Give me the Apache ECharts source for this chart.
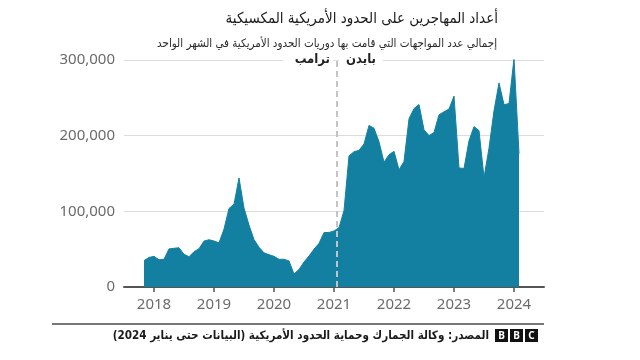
<!DOCTYPE html>
<html>
<head>
<meta charset="utf-8">
<script src="https://cdn.jsdelivr.net/npm/echarts@6/dist/echarts.min.js"></script>
<style>
html,body{margin:0;padding:0;background:#fff;}
#chart{width:640px;height:360px;}
</style>
</head>
<body>
<div id="chart"></div>
<script>
// ---- Data ----
const titleText = 'أعداد المهاجرين على الحدود الأمريكية المكسيكية';
const subtitleText = 'إجمالي عدد المواجهات التي قامت بها دوريات الحدود الأمريكية في الشهر الواحد';
const sourceText = '\u200Fالمصدر: وكالة الجمارك وحماية الحدود الأمريكية (البيانات حتى يناير 2024)\u200F';
const trumpLabel = 'ترامب';
const bidenLabel = 'بايدن';
const startYear = 2017;
const startMonth = 10; // October 2017
const encounters = [
  34857, 39051, 40519,
  35905, 36687, 50347, 51168, 51862, 43180, 40036, 46719, 50568,
  60745, 62456, 60782,
  58317, 76545, 103731, 109415, 144116, 104311, 81777, 62707, 52546,
  45139, 42649, 40565,
  36585, 36687, 34460, 17106, 23237, 33049, 40929, 50014, 57674,
  71929, 72113, 73994,
  78414, 101099, 173277, 178795, 180597, 189034, 213593, 209840, 192001,
  164837, 174845, 179253,
  154874, 166010, 222239, 235785, 241136, 207834, 200162, 204087, 227547,
  231529, 235173, 252315,
  157358, 156630, 193249, 211992, 206690, 144556, 183479, 232963, 269735,
  240988, 242418, 301983,
  176205
];
const yearTicks = [2018, 2019, 2020, 2021, 2022, 2023, 2024];
const inauguration = 2021 + 20 / 365;

// points plotted at month end
const seriesData = encounters.map((v, i) => [startYear + (startMonth + i) / 12, v]);

const FONT = "'Noto Sans', 'DejaVu Sans', sans-serif";
const AR = "'DejaVu Sans Condensed', 'DejaVu Sans', sans-serif";
const chart = echarts.init(document.getElementById('chart'), null, {renderer: 'canvas'});

chart.setOption({
  animation: false,
  backgroundColor: '#fff',
  title: [
    {text: titleText, right: 137, top: 7,
     textStyle: {fontFamily: AR, fontSize: 15, fontWeight: 'normal', color: '#1a1a1a'}},
    {text: subtitleText, right: 138, top: 33,
     textStyle: {fontFamily: AR, fontSize: 11.5, fontWeight: 'normal', color: '#2a2a2a'}}
  ],
  grid: {left: 124, right: 96, top: 60, bottom: 73, containLabel: false},
  xAxis: {
    type: 'value',
    min: 2017.5, max: 2024.5,
    splitLine: {show: false},
    axisLine: {show: true, lineStyle: {color: '#555', width: 2}},
    axisTick: {show: true, customValues: yearTicks, length: 5, lineStyle: {color: '#555', width: 1.5}},
    axisLabel: {customValues: yearTicks, formatter: v => String(Math.round(v)),
      fontFamily: FONT, fontSize: 15, color: '#6b6b6b', margin: 10}
  },
  yAxis: {
    type: 'value',
    min: 0, max: 300000, interval: 100000,
    axisLine: {show: false},
    axisTick: {show: false},
    splitLine: {show: true, lineStyle: {color: '#dcdcdc', width: 1}},
    axisLabel: {formatter: v => v.toLocaleString('en-US'),
      fontFamily: FONT, fontSize: 15, color: '#6b6b6b', margin: 9}
  },
  series: [{
    type: 'line',
    data: seriesData,
    showSymbol: false,
    symbol: 'none',
    lineStyle: {width: 1, color: '#1380A1'},
    areaStyle: {color: '#1380A1', opacity: 1},
    markLine: {
      silent: true,
      symbol: 'none',
      label: {show: false},
      lineStyle: {color: '#c4c4c4', width: 2, type: [6, 4]},
      data: [{xAxis: inauguration}]
    }
  }],
  graphic: [
    {type: 'rect', z: 10, shape: {x: 283, y: 51, width: 50, height: 19}, style: {fill: '#fff'}},
    {type: 'rect', z: 10, shape: {x: 339, y: 51, width: 44, height: 19}, style: {fill: '#fff'}},
    {type: 'text', z: 11, x: 330, y: 60,
     style: {text: trumpLabel, font: "bold 13px " + AR, fill: '#222', align: 'right', verticalAlign: 'middle'}},
    {type: 'text', z: 11, x: 346, y: 60,
     style: {text: bidenLabel, font: "bold 13px " + AR, fill: '#222', align: 'left', verticalAlign: 'middle'}},
    {type: 'line', z: 10, shape: {x1: 52, y1: 324, x2: 544, y2: 324}, style: {stroke: '#777', lineWidth: 2}},
    {type: 'text', z: 11, x: 489, y: 336,
     style: {text: sourceText, font: "bold 11.6px " + AR, fill: '#1a1a1a', align: 'right', verticalAlign: 'middle'}},
    {type: 'rect', z: 10, shape: {x: 495, y: 329, width: 13, height: 13}, style: {fill: '#111'}},
    {type: 'rect', z: 10, shape: {x: 510, y: 329, width: 13, height: 13}, style: {fill: '#111'}},
    {type: 'rect', z: 10, shape: {x: 525, y: 329, width: 13, height: 13}, style: {fill: '#111'}},
    {type: 'text', z: 11, x: 501.5, y: 336, style: {text: 'B', font: "bold 10px " + FONT, fill: '#fff', align: 'center', verticalAlign: 'middle'}},
    {type: 'text', z: 11, x: 516.5, y: 336, style: {text: 'B', font: "bold 10px " + FONT, fill: '#fff', align: 'center', verticalAlign: 'middle'}},
    {type: 'text', z: 11, x: 531.5, y: 336, style: {text: 'C', font: "bold 10px " + FONT, fill: '#fff', align: 'center', verticalAlign: 'middle'}}
  ]
});
</script>
</body>
</html>
